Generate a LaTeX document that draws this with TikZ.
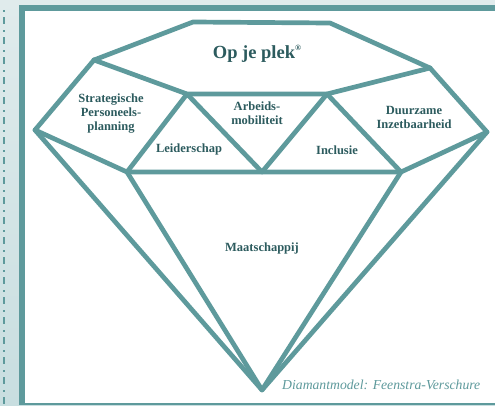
\documentclass[tikz,border=0pt]{standalone}
\usepackage{fontspec}
\setmainfont{Liberation Serif}
\definecolor{tealA}{HTML}{5E9A9C}
\definecolor{txtA}{HTML}{2C5B5E}
\definecolor{bgA}{HTML}{E0EBEC}
\definecolor{bgB}{HTML}{C8DEE0}
\begin{document}
\begin{tikzpicture}[x=1pt,y=-1pt,
  facet/.style={draw=tealA,line width=4.7pt,line join=round,line cap=round},
  lbl/.style={text=txtA,font=\bfseries\fontsize{12.5}{14}\selectfont,align=center,inner sep=0pt}]
\useasboundingbox (0,0) rectangle (495,405);
\shade[top color=bgA,bottom color=bgB] (0,0) rectangle (495,405);
\fill[tealA] (19,5) rectangle (495,405);
\fill[white] (25,11) rectangle (495,403);
\draw[tealA,line width=2pt,dash pattern=on 2pt off 5pt on 7pt off 6pt] (3.5,10) -- (3.5,405);
% vertices
\coordinate (TL) at (193,22);
\coordinate (TR) at (330,23);
\coordinate (UL) at (94,60);
\coordinate (UR) at (430,68);
\coordinate (IL) at (187,94);
\coordinate (IR) at (327,94);
\coordinate (L) at (35,130);
\coordinate (R) at (487,132);
\coordinate (BL) at (127,172);
\coordinate (BM) at (262,172);
\coordinate (BR) at (401,172);
\coordinate (B) at (262,390);
% facets
\draw[facet] (UL) -- (TL) -- (TR) -- (UR);
\draw[facet] (UL) -- (IL) -- (IR) -- (UR);
\draw[facet] (UL) -- (L) -- (BL) -- (BR) -- (R) -- (UR);
\draw[facet] (BL) -- (IL) -- (BM) -- (IR) -- (BR);
\draw[facet] (L) -- (B) -- (R);
\draw[facet] (BL) -- (B) -- (BR);
% labels
\node[lbl,font=\bfseries\fontsize{18.5}{20}\selectfont] (op) at (257,54) {Op je plek\raisebox{0.45em}{\fontsize{8}{8}\selectfont\textregistered}};
\node[lbl] (sp) at (111,114) {Strategische\\Personeels-\\planning};
\node[lbl] (am) at (257,113) {Arbeids-\\mobiliteit};
\node[lbl] (di) at (414,117) {Duurzame\\Inzetbaarheid};
\node[lbl] (ls) at (189,149) {Leiderschap};
\node[lbl] (in) at (337,150) {Inclusie};
\node[lbl] (ms) at (262,248) {Maatschappij};
\node[text=tealA,font=\itshape\fontsize{13.7}{16}\selectfont,anchor=west,inner sep=0pt] (cap) at (282,385) {Diamantmodel: Feenstra-Verschure};
\end{tikzpicture}
\end{document}
